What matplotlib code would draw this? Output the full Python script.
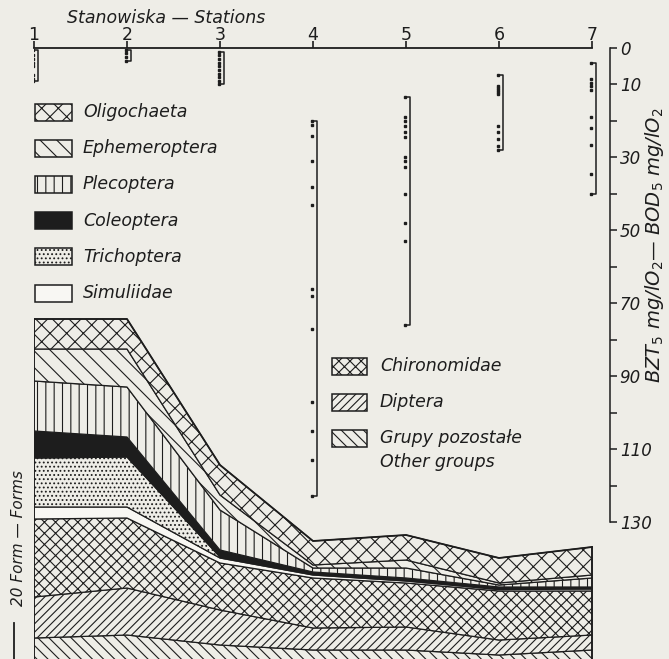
import matplotlib.pyplot as plt
from matplotlib.patches import Rectangle

W, H = 669, 659
ink = '#1d1d1d'
paper = '#eeede7'
plt.rcParams['font.family'] = ['DejaVu Sans']
plt.rcParams['mathtext.default'] = 'it'
plt.rcParams['hatch.linewidth'] = 0.8

stations = [1, 2, 3, 4, 5, 6, 7]
station_labels = ['1', '2', '3', '4', '5', '6', '7']

# BZT5 readings per station, mg/l O2
bod_1 = [0.5, 2, 3, 4, 5, 7.5, 8.5, 9]
bod_2 = [0.5, 1.5, 2.5, 3.5]
bod_3 = [1, 2, 3, 4, 5, 6, 7, 8, 9, 10]
bod_4 = [20, 21, 24, 31, 38, 43, 66, 68, 77, 97, 105, 113, 123]
bod_5 = [13.5, 19, 20, 21.5, 23, 24.5, 30, 31, 32.5, 40, 48, 53, 76]
bod_6 = [7.5, 10.5, 11, 11.5, 12, 12.5, 21.5, 23, 25, 27, 28]
bod_7 = [4, 8.5, 9.5, 10.5, 11.5, 19, 22, 26.5, 34.5, 40]
bod = [bod_1, bod_2, bod_3, bod_4, bod_5, bod_6, bod_7]
bod_ticks = list(range(0, 131, 10))
bod_labels = ['0', '10', '', '30', '', '50', '', '70', '', '90', '', '110', '', '130']

# number of forms per group (stacked from the bottom)
other = [16.5, 18, 13, 10.5, 10.5, 8, 10.5]
diptera = [20.5, 23.5, 17.5, 11, 11.5, 7.5, 7.5]
chironomidae = [39, 35, 23.5, 25, 22, 24.5, 22]
simuliidae = [6, 5.5, 2.5, 1.5, 1, 0.75, 1]
trichoptera = [24.5, 25, 0.5, 0.5, 0.5, 0.25, 0.5]
coleoptera = [13.5, 10, 3.5, 1, 1, 1, 0.5]
plecoptera = [25, 25, 20, 2, 5, 1, 4.5]
ephemeroptera = [16, 19, 7.5, 1.5, 4, 1, 1.5]
oligochaeta = [15, 15, 15, 12, 12.5, 12.5, 14]

layers = [
    (other, paper, '\\\\\\'),
    (diptera, paper, '////'),
    (chironomidae, paper, 'xxx'),
    (simuliidae, '#f8f7f3', ''),
    (trichoptera, paper, '....'),
    (coleoptera, ink, ''),
    (plecoptera, paper, '||'),
    (ephemeroptera, paper, '\\\\'),
    (oligochaeta, paper, 'xx'),
]
style = {'Oligochaeta': layers[8], 'Ephemeroptera': layers[7], 'Plecoptera': layers[6],
         'Coleoptera': layers[5], 'Trichoptera': layers[4], 'Simuliidae': layers[3],
         'Chironomidae': layers[2], 'Diptera': layers[1], 'Other': layers[0]}

fig = plt.figure(figsize=(W / 100, H / 100), dpi=100, facecolor=paper)
xmax = 1 + (610 - 34) / 93


def px(x, y):
    return x / W, 1 - y / H


# ---- stacked area (forms) ----
ax = fig.add_axes([34 / W, 0, 576 / W, (659 - 310) / H])
ax.set_xlim(1, xmax)
ax.set_ylim(6, 6 + (659 - 310) / 2)
ax.axis('off')
low = [0] * len(stations)
for vals, fc, hatch in layers:
    high = [a + b for a, b in zip(low, vals)]
    ax.fill_between(stations, low, high, facecolor=fc, edgecolor=ink, hatch=hatch, lw=0.9)
    low = high
ax.plot([stations[0]] * 2, [0, low[0]], color=ink, lw=1.3)
ax.plot([stations[-1]] * 2, [0, low[-1]], color=ink, lw=1.3)
ax.plot(stations, low, color=ink, lw=1.3)
ax.plot([1 - 20 / 93] * 2, [4, 24], color=ink, lw=1.3, clip_on=False)
fig.text(*px(19, 538), '20 Form — Forms', rotation=90, ha='center', va='center',
         fontsize=11, style='italic', color=ink)

# ---- BZT5 scale ----
ax2 = fig.add_axes([34 / W, (659 - 522) / H, 576 / W, 474 / H])
ax2.patch.set_alpha(0)
ax2.set_xlim(1, xmax)
ax2.set_ylim(130, 0)
for s in ['top', 'bottom', 'left']:
    ax2.spines[s].set_visible(False)
ax2.spines['right'].set_color(ink)
ax2.spines['right'].set_linewidth(1.1)
ax2.yaxis.tick_right()
ax2.set_yticks(bod_ticks)
ax2.set_yticklabels(bod_labels, fontsize=12, style='italic', color=ink)
ax2.tick_params(axis='y', direction='out', length=5, width=1.1, pad=2, colors=ink)
ax2.xaxis.tick_top()
ax2.set_xticks(stations)
ax2.set_xticklabels(station_labels, fontsize=12.5, color=ink)
ax2.tick_params(axis='x', direction='out', length=5, width=1.2, pad=-2, colors=ink)
ax2.plot([stations[0], stations[-1]], [0, 0], color=ink, lw=1.3, clip_on=False)
for s, vals in zip(stations, bod):
    lo, hi = min(vals), max(vals)
    ax2.plot([s + 0.015, s + 0.045, s + 0.045, s + 0.015], [lo, lo, hi, hi], color=ink, lw=1.1)
    ax2.plot([s - 0.01] * len(vals), vals, ls='none', marker='s', ms=1.8, color=ink)

fig.text(*px(166, 18), 'Stanowiska — Stations', ha='center', va='center', fontsize=12.5,
         style='italic', color=ink)
fig.text(*px(655, 245), 'BZT$_5$ mg/lO$_2$— BOD$_5$ mg/lO$_2$', rotation=90, ha='center',
         va='center', fontsize=14, style='italic', color=ink)

# ---- legends ----
left_names = ['Oligochaeta', 'Ephemeroptera', 'Plecoptera', 'Coleoptera', 'Trichoptera', 'Simuliidae']
for i, name in enumerate(left_names):
    yc = 112 + 36.2 * i
    _, fc, hatch = style[name]
    fig.patches.append(Rectangle(px(35, yc + 8.5), 37 / W, 17 / H, transform=fig.transFigure,
                                 facecolor=fc, edgecolor=ink, hatch=hatch, lw=1.1))
    fig.text(*px(83, yc), name, va='center', fontsize=12.5, style='italic', color=ink)

mid = [('Chironomidae', 'Chironomidae'), ('Diptera', 'Diptera'), ('Other', 'Grupy pozostałe')]
for i, (key, name) in enumerate(mid):
    yc = 366 + 36 * i
    _, fc, hatch = style[key]
    fig.patches.append(Rectangle(px(332, yc + 8.5), 35 / W, 17 / H, transform=fig.transFigure,
                                 facecolor=fc, edgecolor=ink, hatch=hatch, lw=1.1))
    fig.text(*px(380, yc), name, va='center', fontsize=12.5, style='italic', color=ink)
fig.text(*px(380, 462), 'Other groups', va='center', fontsize=12.5, style='italic', color=ink)

fig.savefig('out.png', dpi=100, facecolor=paper)
